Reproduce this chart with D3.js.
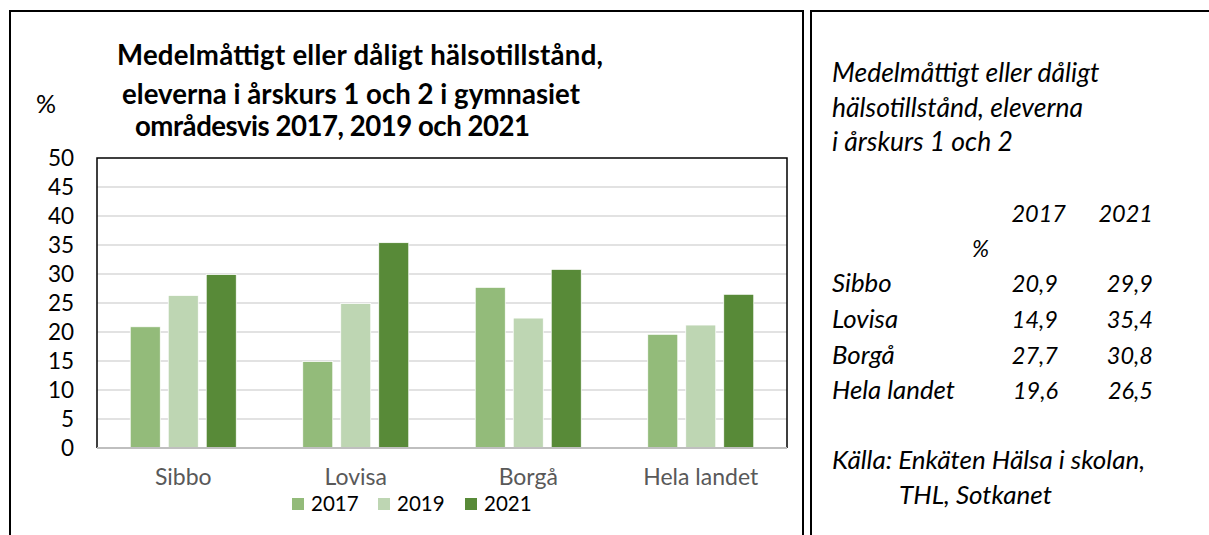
<!DOCTYPE html>
<html>
<head>
<meta charset="utf-8">
<script src="https://cdn.jsdelivr.net/npm/d3@7"></script>
<style>
  html, body { margin: 0; padding: 0; background: #fff; }
  svg { display: block; }
  text { font-family: Lato, "Open Sans", sans-serif; }
</style>
</head>
<body>
<svg id="chart" width="1209" height="535"></svg>
<script>
// Share of upper-secondary students (year 1 and 2) reporting average or poor health, by area
const categories = ["Sibbo", "Lovisa", "Borgå", "Hela landet"];
const years = ["2017", "2019", "2021"];
const values2017 = [20.9, 14.9, 27.7, 19.6];
const values2019 = [26.3, 24.9, 22.4, 21.2];
const values2021 = [29.9, 35.4, 30.8, 26.5];
const yTicks = [0, 5, 10, 15, 20, 25, 30, 35, 40, 45, 50];

const titleLines = [
  "Medelmåttigt eller dåligt hälsotillstånd,",
  "eleverna i årskurs 1 och 2 i gymnasiet",
  "områdesvis 2017, 2019 och 2021"
];
const sideTitle = ["Medelmåttigt eller dåligt", "hälsotillstånd, eleverna", "i årskurs 1 och 2"];
const sourceLines = ["Källa: Enkäten Hälsa i skolan,", "THL, Sotkanet"];

const seriesValues = { "2017": values2017, "2019": values2019, "2021": values2021 };
const colors = { "2017": "#93bb7a", "2019": "#bed6b3", "2021": "#588a38" };

const svg = d3.select("#chart");

// Panel frames
const frame = svg.append("g").attr("fill", "none").attr("stroke", "#000").attr("stroke-width", 2);
frame.append("path").attr("d", "M10,535 V11 H803 V535");
frame.append("path").attr("d", "M811,535 V11 H1209");

// Plot area
const plot = { left: 97, right: 787, top: 158, bottom: 448 };

const y = d3.scaleLinear().domain([0, 50]).range([plot.bottom, plot.top]);
const x0 = d3.scaleBand().domain(categories).range([plot.left, plot.right])
  .paddingInner(0.3855).paddingOuter(0.19275);
const x1 = d3.scaleBand().domain(years).range([0, x0.bandwidth()]).paddingInner(0.21);

// Gridlines
svg.append("g").selectAll("line").data(yTicks.filter(d => d > 0 && d < 50)).join("line")
  .attr("x1", plot.left).attr("x2", plot.right)
  .attr("y1", d => y(d)).attr("y2", d => y(d))
  .attr("stroke", "#d9d9d9").attr("stroke-width", 1.5);

// Bars
const groups = svg.append("g").selectAll("g").data(categories).join("g")
  .attr("transform", d => `translate(${x0(d)},0)`);
groups.selectAll("rect")
  .data((c, i) => years.map(yr => ({ yr, v: seriesValues[yr][i] })))
  .join("rect")
  .attr("x", d => x1(d.yr))
  .attr("width", x1.bandwidth())
  .attr("y", d => y(d.v))
  .attr("height", d => y(0) - y(d.v))
  .attr("fill", d => colors[d.yr])
  .attr("stroke", "#fff").attr("stroke-width", 0.75);

// Plot border: black left/top/right, grey category axis at bottom
svg.append("path")
  .attr("d", `M${plot.left},${plot.bottom} V${plot.top} H${plot.right} V${plot.bottom}`)
  .attr("fill", "none").attr("stroke", "#000").attr("stroke-width", 1.5);
svg.append("line")
  .attr("x1", plot.left).attr("x2", plot.right)
  .attr("y1", plot.bottom).attr("y2", plot.bottom)
  .attr("stroke", "#bfbfbf").attr("stroke-width", 2);

// Y axis labels
const yAxis = d3.axisLeft(y).tickValues(yTicks).tickSize(0).tickPadding(0);
svg.append("g").attr("transform", "translate(74,0)").call(yAxis)
  .call(g => g.select(".domain").remove())
  .call(g => g.selectAll("text").attr("font-size", 22.5).attr("fill", "#000")
    .attr("font-family", "Lato, sans-serif"));

// X axis labels
const xAxis = d3.axisBottom(x0).tickSize(0).tickPadding(0);
svg.append("g").attr("transform", `translate(0,${plot.bottom + 21})`).call(xAxis)
  .call(g => g.select(".domain").remove())
  .call(g => g.selectAll("text").attr("font-size", 23).attr("fill", "#595959")
    .attr("font-family", "Lato, sans-serif"));

// Chart title
const titleX = [117, 122, 135];
const titleY = [65, 104, 136];
const titleW = [486, 458, 395];
svg.append("g").selectAll("text").data(titleLines).join("text")
  .attr("x", (d, i) => titleX[i]).attr("y", (d, i) => titleY[i])
  .attr("font-size", 27.6).attr("font-weight", "bold").attr("fill", "#000")
  .attr("textLength", (d, i) => titleW[i]).attr("lengthAdjust", "spacing")
  .text(d => d);

svg.append("text").attr("x", 36).attr("y", 113).attr("font-size", 25).text("%");

// Legend
const legendX = { "2017": 292, "2019": 378, "2021": 465 };
const legend = svg.append("g").selectAll("g").data(years).join("g")
  .attr("transform", d => `translate(${legendX[d]},498)`);
legend.append("rect").attr("width", 12).attr("height", 12).attr("fill", d => colors[d]);
legend.append("text").attr("x", 19).attr("y", 13).attr("font-size", 20.5).attr("fill", "#000").text(d => d);

// Side panel: title, table, source
const side = svg.append("g").attr("font-style", "italic").attr("fill", "#000");
side.selectAll("text.st").data(sideTitle).join("text").attr("class", "st")
  .attr("x", 832).attr("y", (d, i) => [82, 117, 151][i])
  .attr("font-size", 26.5).text(d => d);

const colRight = { "2017": 1058, "2021": 1153 };
side.selectAll("text.hd").data(["2017", "2021"]).join("text").attr("class", "hd")
  .attr("x", d => colRight[d] + (d === "2017" ? 8 : 0)).attr("y", 222)
  .attr("text-anchor", "end").attr("font-size", 23.5).text(d => d);
side.append("text").attr("x", 972).attr("y", 257).attr("font-size", 23).text("%");

const fmt = v => d3.format(".1f")(v).replace(".", ",");
const rowY = [292, 328, 364, 399];
categories.forEach((c, i) => {
  side.append("text").attr("x", 832).attr("y", rowY[i]).attr("font-size", 25.8).text(c);
  side.append("text").attr("x", colRight["2017"]).attr("y", rowY[i])
    .attr("text-anchor", "end").attr("font-size", 23.5).text(fmt(values2017[i]));
  side.append("text").attr("x", colRight["2021"]).attr("y", rowY[i])
    .attr("text-anchor", "end").attr("font-size", 23.5).text(fmt(values2021[i]));
});

side.selectAll("text.src").data(sourceLines).join("text").attr("class", "src")
  .attr("x", (d, i) => i === 0 ? 832 : 899).attr("y", (d, i) => [469, 504][i])
  .attr("font-size", 26).text(d => d);
</script>
</body>
</html>
